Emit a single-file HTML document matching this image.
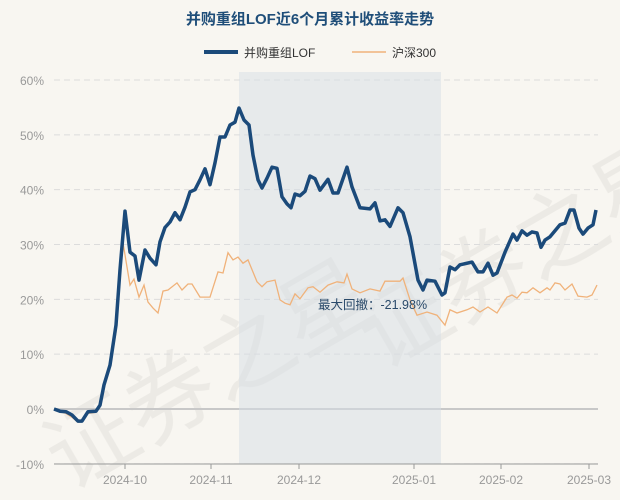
<!DOCTYPE html>
<html><head><meta charset="utf-8"><style>
html,body{margin:0;padding:0;width:620px;height:500px;overflow:hidden;background:#f8f6f1;}
svg{display:block;font-family:"Liberation Sans","Noto Sans CJK SC",sans-serif;}
</style></head><body>
<svg id="c" width="620" height="500">
<rect width="620" height="500" fill="#f8f6f1"/>
<g opacity="0.05" font-size="90" fill="#000">
<text x="-10" y="400" transform="rotate(-30 200 300)">证券之星</text>
<text x="330" y="320" transform="rotate(-30 450 250)">证券之星</text>
</g>
<text x="310" y="24" text-anchor="middle" font-size="15" font-weight="bold" fill="#1f4e79">并购重组LOF近6个月累计收益率走势</text>
<g>
<line x1="204" y1="52" x2="238" y2="52" stroke="#1b4a7a" stroke-width="4"/>
<text x="244" y="57" font-size="12" fill="#333">并购重组LOF</text>
<line x1="352" y1="52" x2="386" y2="52" stroke="#f0b27a" stroke-width="1.5"/>
<text x="392" y="57" font-size="12" fill="#333">沪深300</text>
</g>
<g id="grid"></g><g id="plot"></g><g id="axes"></g>
</svg>
<script>
const yTicks=[-10,0,10,20,30,40,50,60];
const xTickLabels=["2024-10","2024-11","2024-12","2025-01","2025-02","2025-03"];
const xTickDays=[71,157,245,360,447,535];
const fundDays=[0,6,12,18,24,28,34,42,46,50,56,62,66,71,76,81,85,91,96,102,106,111,116,121,126,131,136,141,146,151,156,161,166,171,176,181,185,190,195,199,204,208,213,218,223,228,233,237,241,246,251,256,261,266,274,279,284,293,298,306,316,321,326,331,336,344,349,356,364,369,373,381,388,391,396,401,406,418,424,429,434,439,443,451,459,463,468,473,478,483,487,491,496,506,511,516,520,525,529,534,539,542];
const fundValues=[0,-0.4,-0.5,-1.1,-2.2,-2.2,-0.5,-0.4,0.7,4.4,8.0,15.3,25.4,36.1,28.6,27.9,23.5,29.0,27.5,26.3,30.5,33.1,34.1,35.8,34.5,36.8,39.6,40.0,41.8,43.8,40.9,44.9,49.6,49.6,51.8,52.3,54.9,52.7,51.8,46.3,41.8,40.3,42.1,44.1,43.9,38.7,37.4,36.7,39.2,38.9,39.7,42.5,42.0,39.9,41.9,39.4,39.4,44.1,40.5,36.7,36.5,37.6,34.3,34.5,33.3,36.7,35.8,31.4,23.5,21.7,23.5,23.3,20.8,21.2,25.9,25.4,26.3,26.8,25.0,25.0,26.6,24.4,24.8,28.6,31.9,30.8,32.5,31.7,32.3,32.1,29.5,30.8,31.4,33.6,33.9,36.3,36.3,33.0,31.9,33.0,33.6,36.3];
const hsDays=[0,6,12,18,24,28,34,42,46,50,56,62,66,68,76,80,85,90,94,99,104,109,114,123,128,134,138,146,156,164,169,174,179,184,189,194,203,208,213,221,226,231,236,241,246,254,259,266,274,283,290,293,298,306,316,326,331,346,349,356,363,373,383,391,396,403,413,419,426,434,443,453,458,463,468,473,479,486,493,496,501,506,511,518,524,533,538,543];
const hsValues=[0,-0.5,-0.8,-1.5,-2.4,-2.3,-0.8,-0.6,0.5,4,7.5,14,24,31.4,22.6,23.7,20.4,22.6,19.5,18.4,17.5,21.5,21.7,23.0,21.7,22.8,22.8,20.4,20.4,25.0,24.8,28.5,27.2,27.7,26.6,27.2,23.2,22.3,23.2,23.5,19.9,19.3,19.0,21.0,20.1,22.1,22.3,21.3,22.6,23.2,23.0,24.6,21.9,21.2,21.9,21.5,23.3,23.3,23.9,19.9,17.1,17.7,17.1,15.3,18.1,17.5,18.1,18.6,17.7,18.6,17.5,20.4,20.8,20.2,21.3,21.2,22.1,21.2,22.1,21.7,23.0,22.8,21.7,22.8,20.6,20.4,20.8,22.6];
const drawdownStart=185, drawdownEnd=387, drawdownLabel="最大回撤：-21.98%";
const L=54,R=598,T=72,B=464;
const xs=d=>L+d*(R-L)/544;
const ys=v=>409-v*5.483;
const NS="http://www.w3.org/2000/svg";
function mk(tag,attrs,parent){const e=document.createElementNS(NS,tag);for(const k in attrs)e.setAttribute(k,attrs[k]);parent.appendChild(e);return e;}
const grid=document.getElementById('grid'),plot=document.getElementById('plot'),axes=document.getElementById('axes');
yTicks.forEach(v=>{
 const l=mk('line',{x1:L,x2:R,y1:ys(v),y2:ys(v),stroke:v===0?'#c8c8c8':'#dcdcdc','stroke-width':v===0?2:1,'stroke-dasharray':v===0?'':'6,4'},grid);
 
 
 const t=mk('text',{x:44,y:ys(v)+5,'text-anchor':'end','font-size':12,fill:'#999'},axes);
 t.textContent=v+'%';
 
 
});
const ax=mk('line',{x1:L,x2:R,y1:B,y2:B,stroke:'#999'},axes);


xTickLabels.forEach((s,i)=>{
 const x=xs(xTickDays[i]);
 const tk=mk('line',{x1:x,x2:x,y1:B,y2:B+5,stroke:'#999'},axes);
 
 
 const t=mk('text',{x:x,y:B+20,'text-anchor':'middle','font-size':12,fill:'#999'},axes);
 t.textContent=s;
 
 
});
const dd=mk('rect',{x:xs(drawdownStart),y:T,width:xs(drawdownEnd)-xs(drawdownStart),height:B-T,fill:'#d5dde5',opacity:0.5},grid);


function pts(d,v){return d.map((x,i)=>xs(x).toFixed(1)+','+ys(v[i]).toFixed(1)).join(' ');}
const hs=mk('polyline',{points:pts(hsDays,hsValues),fill:'none',stroke:'#f0b27a','stroke-width':1.3},plot);


const fd=mk('polyline',{points:pts(fundDays,fundValues),fill:'none',stroke:'#1b4a7a','stroke-width':3.5,'stroke-linejoin':'round'},plot);


const lb=mk('text',{x:318,y:309,'font-size':12.5,fill:'#2a4a6a'},plot);
lb.textContent=drawdownLabel;


</script>
</body></html>
